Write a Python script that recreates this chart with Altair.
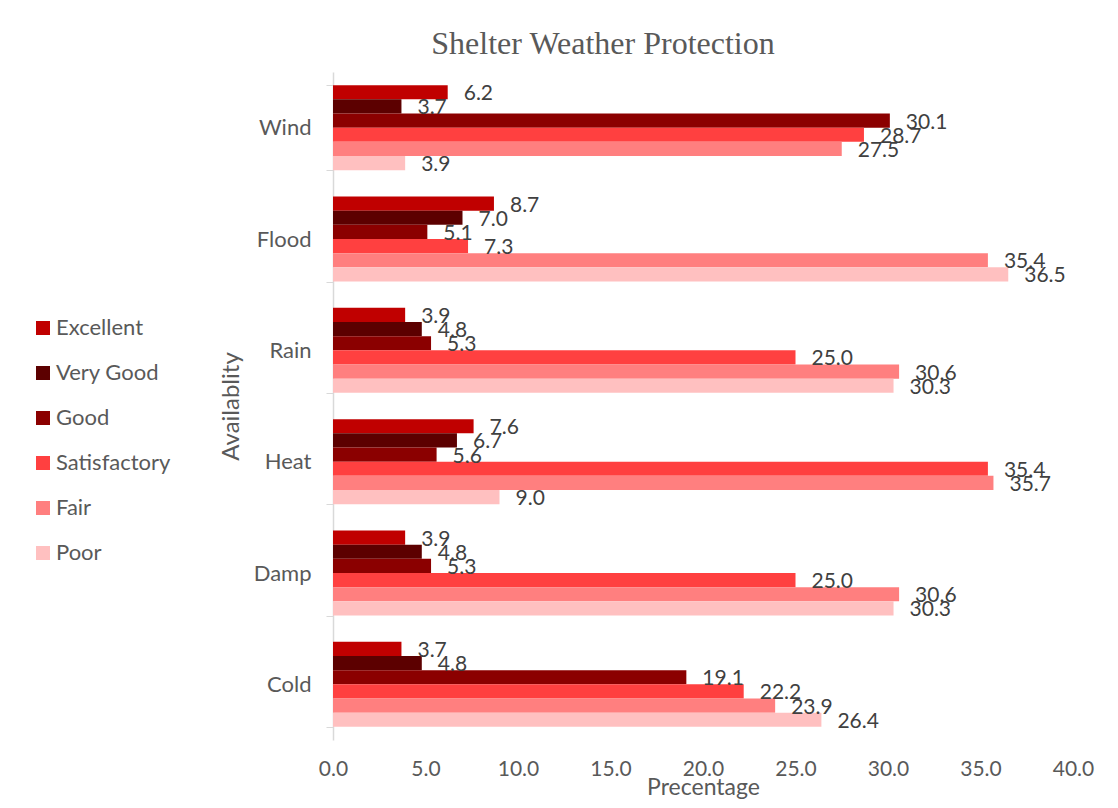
import altair as alt
import pandas as pd

categories = ["Wind", "Flood", "Rain", "Heat", "Damp", "Cold"]
ratings = ["Excellent", "Very Good", "Good", "Satisfactory", "Fair", "Poor"]
colors = ["#C00000", "#5C0000", "#8B0000", "#FF4040", "#FF7F7F", "#FFC0C0"]

excellent = [6.2, 8.7, 3.9, 7.6, 3.9, 3.7]
very_good = [3.7, 7.0, 4.8, 6.7, 4.8, 4.8]
good = [30.1, 5.1, 5.3, 5.6, 5.3, 19.1]
satisfactory = [28.7, 7.3, 25.0, 35.4, 25.0, 22.2]
fair = [27.5, 35.4, 30.6, 35.7, 30.6, 23.9]
poor = [3.9, 36.5, 30.3, 9.0, 30.3, 26.4]

series = [excellent, very_good, good, satisfactory, fair, poor]
rows = []
for r, vals in zip(ratings, series):
    for c, v in zip(categories, vals):
        rows.append({"Hazard": c, "Rating": r, "Value": v})
df = pd.DataFrame(rows)

FONT = "Lato"
GREY = "#595959"

y_enc = alt.Y(
    "Hazard:N",
    sort=categories,
    scale=alt.Scale(paddingInner=0.236, paddingOuter=0.118),
    axis=alt.Axis(
        title="Availablity",
        titleFont=FONT,
        titleFontSize=24,
        titleFontWeight="normal",
        titleColor=GREY,
        titleAngle=270,
        titleX=-102,
        titleY=334,
        titleAlign="center",
        titleBaseline="middle",
        labelFont=FONT,
        labelFontSize=22,
        labelColor=GREY,
        labelPadding=15,
        tickBand="extent",
        tickSize=7,
        tickColor="#D9D9D9",
        domainColor="#D9D9D9",
        domainWidth=1.5,
        grid=False,
    ),
)
yoff = alt.YOffset("Rating:N", sort=ratings, scale=alt.Scale(paddingInner=0, paddingOuter=0))

x_enc = alt.X(
    "Value:Q",
    scale=alt.Scale(domain=[0, 40], nice=False),
    axis=alt.Axis(
        title="Precentage",
        titleFont=FONT,
        titleFontSize=23,
        titleFontWeight="normal",
        titleColor=GREY,
        titleY=54,
        titleBaseline="alphabetic",
        values=[0, 5, 10, 15, 20, 25, 30, 35, 40],
        format=".1f",
        labelFont=FONT,
        labelFontSize=21,
        labelColor=GREY,
        labelPadding=18,
        labelFlush=False,
        ticks=False,
        domain=False,
        grid=False,
    ),
)

bars = alt.Chart(df).mark_bar().encode(
    x=x_enc,
    y=y_enc,
    yOffset=yoff,
    color=alt.Color(
        "Rating:N",
        sort=ratings,
        scale=alt.Scale(domain=ratings, range=colors),
        legend=alt.Legend(
            title=None,
            orient="none",
            legendX=-301,
            legendY=245,
            symbolType="square",
            symbolSize=196,
            symbolStrokeWidth=0,
            labelFont=FONT,
            labelFontSize=22,
            labelColor=GREY,
            labelOffset=2,
            rowPadding=23,
            padding=0,
        ),
    ),
)

labels = alt.Chart(df).mark_text(
    align="left", baseline="middle", dx=16, dy=2, font=FONT, fontSize=21, color="#404040"
).encode(
    x="Value:Q",
    y=alt.Y("Hazard:N", sort=categories),
    yOffset=yoff,
    text=alt.Text("Value:Q", format=".1f"),
)

chart = (
    alt.layer(bars, labels)
    .properties(
        width=740,
        height=668,
        padding={"left": 325, "top": 64, "right": 37, "bottom": 60},
        autosize=alt.AutoSizeParams(type="none"),
        title=alt.TitleParams(
            "Shelter Weather Protection",
            font="Liberation Serif",
            fontSize=32,
            fontWeight="normal",
            color=GREY,
            anchor="middle",
            frame="group",
            dx=-100,
            dy=44,
            offset=19,
            baseline="alphabetic",
        ),
    )
    .configure_view(stroke=None)
)

chart.save("out.html", embed_options={"renderer": "svg", "actions": False})
